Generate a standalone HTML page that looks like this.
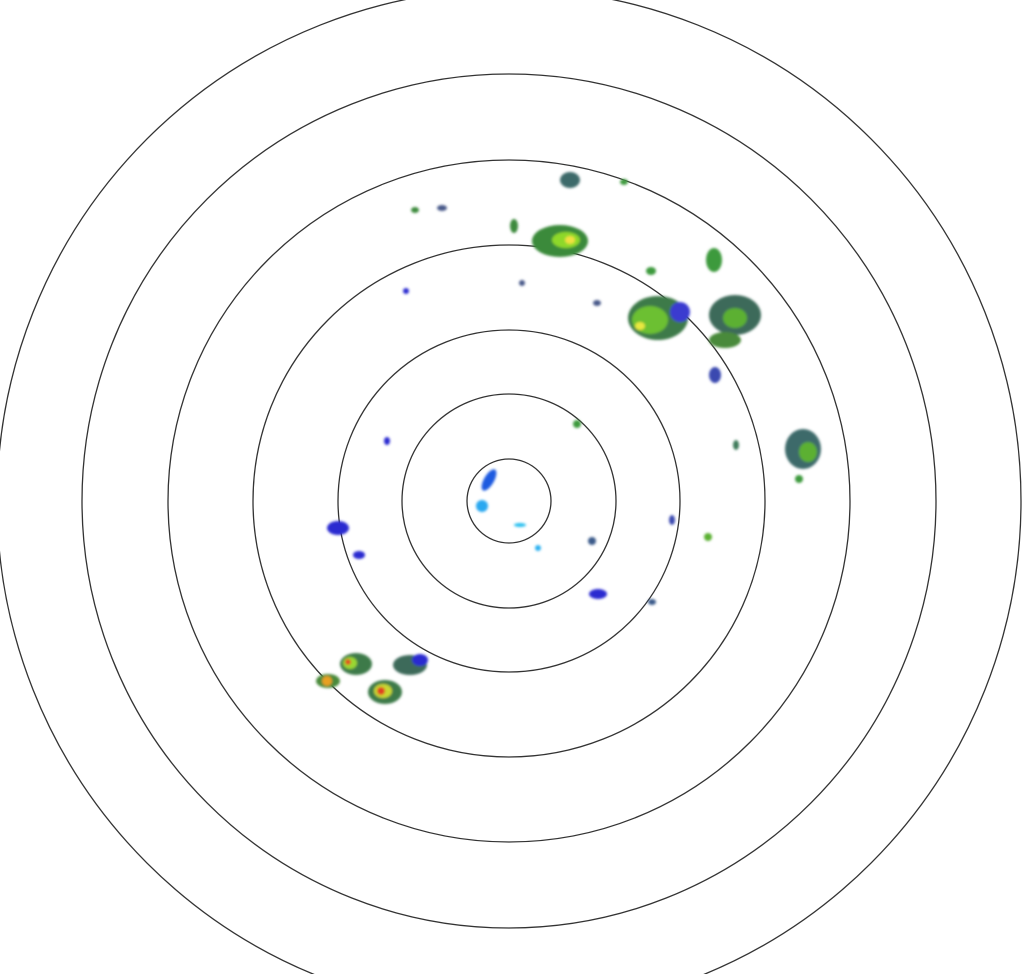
<!DOCTYPE html>
<html><head><meta charset="utf-8"><style>html,body{margin:0;padding:0;background:#fff;width:1029px;height:974px;overflow:hidden}</style></head>
<body>
<svg width="1029" height="974" viewBox="0 0 1029 974" xmlns="http://www.w3.org/2000/svg">
<defs><filter id="b"><feGaussianBlur stdDeviation="1.2"/></filter></defs>
<g fill="none" stroke="#333" stroke-width="1.3">
<circle cx="509" cy="501" r="42"/>
<circle cx="509" cy="501" r="107"/>
<circle cx="509" cy="501" r="171"/>
<circle cx="509" cy="501" r="256"/>
<circle cx="509" cy="501" r="341"/>
<circle cx="509" cy="501" r="427"/>
<circle cx="509" cy="501" r="512"/>
</g>
<g filter="url(#b)">
<!-- NE clusters -->
<ellipse cx="560" cy="241" rx="28" ry="16" fill="#3b8a3b"/>
<ellipse cx="566" cy="240" rx="14" ry="8" fill="#8ed82a"/>
<ellipse cx="570" cy="240" rx="5" ry="4" fill="#f0e040"/>
<ellipse cx="658" cy="318" rx="30" ry="22" fill="#3d7a4a"/>
<ellipse cx="650" cy="320" rx="18" ry="14" fill="#6cc030"/>
<ellipse cx="640" cy="326" rx="5" ry="4" fill="#e8e840"/>
<ellipse cx="680" cy="312" rx="10" ry="10" fill="#3b3bd0"/>
<ellipse cx="735" cy="315" rx="26" ry="20" fill="#3d6a5a"/>
<ellipse cx="735" cy="318" rx="12" ry="10" fill="#5cb030"/>
<ellipse cx="725" cy="340" rx="16" ry="8" fill="#4a8a3a"/>
<ellipse cx="714" cy="260" rx="8" ry="12" fill="#3e9a3e"/>
<ellipse cx="803" cy="449" rx="18" ry="20" fill="#3d6a6a"/>
<ellipse cx="808" cy="452" rx="9" ry="10" fill="#5cb030"/>
<ellipse cx="570" cy="180" rx="10" ry="8" fill="#3d6a6a"/>
<ellipse cx="514" cy="226" rx="4" ry="7" fill="#3e8a3e"/>
<ellipse cx="442" cy="208" rx="5" ry="3" fill="#4a5a8a"/>
<ellipse cx="415" cy="210" rx="4" ry="3" fill="#3e8a3e"/>
<ellipse cx="651" cy="271" rx="5" ry="4" fill="#3e9a3e"/>
<ellipse cx="624" cy="182" rx="4" ry="3" fill="#3e9a3e"/>
<ellipse cx="715" cy="375" rx="6" ry="8" fill="#3a4ab0"/>
<ellipse cx="577" cy="424" rx="4" ry="4" fill="#3e9a3e"/>
<ellipse cx="597" cy="303" rx="4" ry="3" fill="#4a5a8a"/>
<ellipse cx="522" cy="283" rx="3" ry="3" fill="#4a5a8a"/>
<ellipse cx="406" cy="291" rx="3" ry="3" fill="#2a2ad0"/>
<ellipse cx="736" cy="445" rx="3" ry="5" fill="#3e7a5a"/>
<ellipse cx="799" cy="479" rx="4" ry="4" fill="#3e9a3e"/>
<ellipse cx="708" cy="537" rx="4" ry="4" fill="#5ab030"/>
<ellipse cx="672" cy="520" rx="3" ry="5" fill="#3a4ab0"/>
<ellipse cx="592" cy="541" rx="4" ry="4" fill="#3a5a8a"/>
<ellipse cx="598" cy="594" rx="9" ry="5" fill="#2a2ad0"/>
<ellipse cx="652" cy="602" rx="4" ry="3" fill="#3a5a8a"/>
<!-- west -->
<ellipse cx="338" cy="528" rx="11" ry="7" fill="#2a2ad0"/>
<ellipse cx="359" cy="555" rx="6" ry="4" fill="#2a2ad0"/>
<ellipse cx="387" cy="441" rx="3" ry="4" fill="#2a2ad0"/>
<!-- center -->
<ellipse cx="489" cy="480" rx="5" ry="12" fill="#1a5ae0" transform="rotate(30 489 480)"/>
<ellipse cx="482" cy="506" rx="6" ry="6" fill="#29a8f0"/>
<ellipse cx="538" cy="548" rx="3" ry="3" fill="#29b0f0"/>
<ellipse cx="520" cy="525" rx="6" ry="2" fill="#29c0f0"/>
<!-- SW clusters -->
<ellipse cx="356" cy="664" rx="16" ry="11" fill="#3e7a4a"/>
<ellipse cx="350" cy="663" rx="7" ry="6" fill="#9ad830"/>
<ellipse cx="348" cy="662" rx="3" ry="3" fill="#e05020"/>
<ellipse cx="385" cy="692" rx="17" ry="12" fill="#3e7a4a"/>
<ellipse cx="383" cy="691" rx="9" ry="7" fill="#c8d830"/>
<ellipse cx="381" cy="691" rx="4" ry="4" fill="#e04020"/>
<ellipse cx="328" cy="681" rx="12" ry="7" fill="#4a8a3a"/>
<ellipse cx="327" cy="681" rx="5" ry="5" fill="#e8a020"/>
<ellipse cx="410" cy="665" rx="17" ry="10" fill="#3d6a5a"/>
<ellipse cx="420" cy="660" rx="8" ry="6" fill="#2a2ad0"/>
</g>
</svg>
</body></html>
